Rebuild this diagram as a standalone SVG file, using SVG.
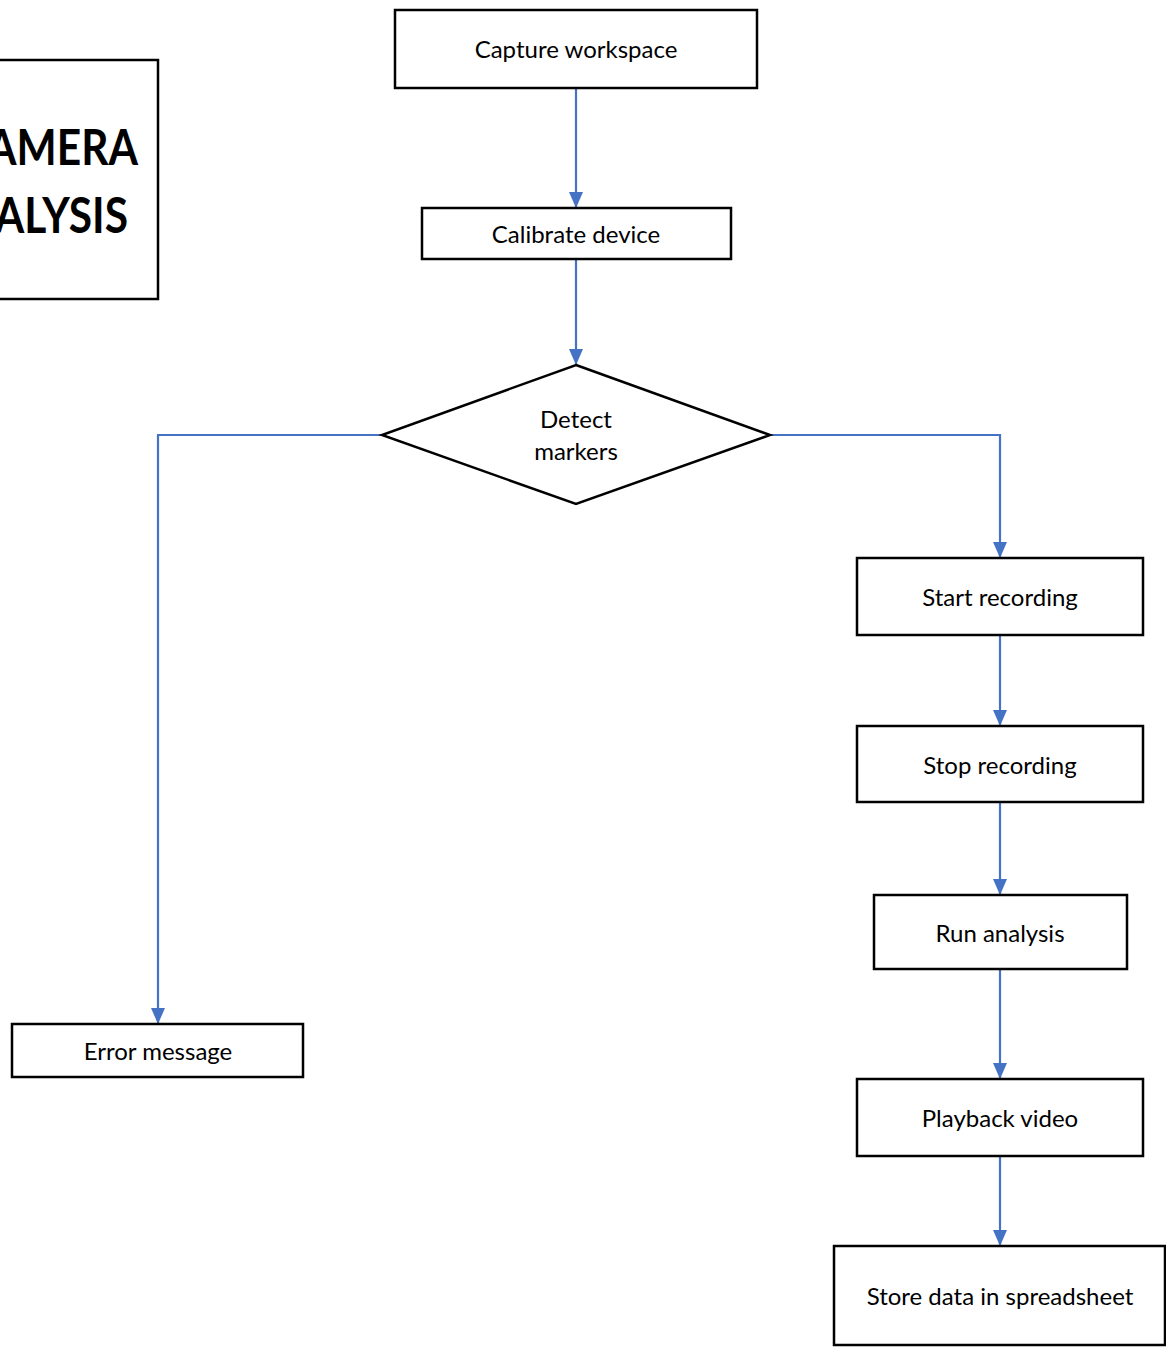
<svg xmlns="http://www.w3.org/2000/svg" width="1166" height="1348" viewBox="0 0 1166 1348">
<style>
.box{fill:#fff;stroke:#000;stroke-width:2.5}
.t{font-family:Lato,"Open Sans","Liberation Sans",sans-serif;font-size:24px;fill:#000;text-anchor:middle}
.title{font-family:Lato,"Open Sans","Liberation Sans",sans-serif;font-size:50px;font-weight:bold;fill:#000;text-anchor:end}
.c{fill:none;stroke:#4472C4;stroke-width:2.2}
</style>
<defs>
<marker id="ah" markerWidth="16" markerHeight="14" viewBox="0 0 16 14" refX="15" refY="7" orient="auto" markerUnits="userSpaceOnUse">
<path d="M0,0 L16,7 L0,14 z" fill="#4472C4"/>
</marker>
</defs>
<rect width="1166" height="1348" fill="#fff"/>
<g id="title">
<rect class="box" x="-20" y="60" width="178" height="239"/>
<text class="title" transform="translate(138,165) scale(0.85,1)">CAMERA</text>
<text class="title" transform="translate(128,233) scale(0.85,1)">ANALYSIS</text>
</g>
<g id="connectors">
<path class="c" d="M576,88 V207" marker-end="url(#ah)"/>
<path class="c" d="M576,259 V364" marker-end="url(#ah)"/>
<path class="c" d="M382,435 H158 V1023" marker-end="url(#ah)"/>
<path class="c" d="M770,435 H1000 V557" marker-end="url(#ah)"/>
<path class="c" d="M1000,635 V725" marker-end="url(#ah)"/>
<path class="c" d="M1000,802 V894" marker-end="url(#ah)"/>
<path class="c" d="M1000,969 V1078" marker-end="url(#ah)"/>
<path class="c" d="M1000,1156 V1245" marker-end="url(#ah)"/>
</g>
<g id="capture">
<rect class="box" x="395" y="10" width="362" height="78"/>
<text class="t" x="576" y="58">Capture workspace</text>
</g>
<g id="calibrate">
<rect class="box" x="422" y="208" width="309" height="51"/>
<text class="t" x="576" y="243">Calibrate device</text>
</g>
<g id="detect">
<polygon class="box" points="576,365 770,435 576,504 382,435"/>
<text class="t" x="576" y="428">Detect</text>
<text class="t" x="576" y="460">markers</text>
</g>
<g id="error">
<rect class="box" x="12" y="1024" width="291" height="53"/>
<text class="t" x="158" y="1060">Error message</text>
</g>
<g id="start">
<rect class="box" x="857" y="558" width="286" height="77"/>
<text class="t" x="1000" y="606">Start recording</text>
</g>
<g id="stop">
<rect class="box" x="857" y="726" width="286" height="76"/>
<text class="t" x="1000" y="774">Stop recording</text>
</g>
<g id="run">
<rect class="box" x="874" y="895" width="253" height="74"/>
<text class="t" x="1000" y="942">Run analysis</text>
</g>
<g id="playback">
<rect class="box" x="857" y="1079" width="286" height="77"/>
<text class="t" x="1000" y="1127">Playback video</text>
</g>
<g id="store">
<rect class="box" x="834" y="1246" width="331" height="99"/>
<text class="t" x="1000" y="1305">Store data in spreadsheet</text>
</g>
</svg>
